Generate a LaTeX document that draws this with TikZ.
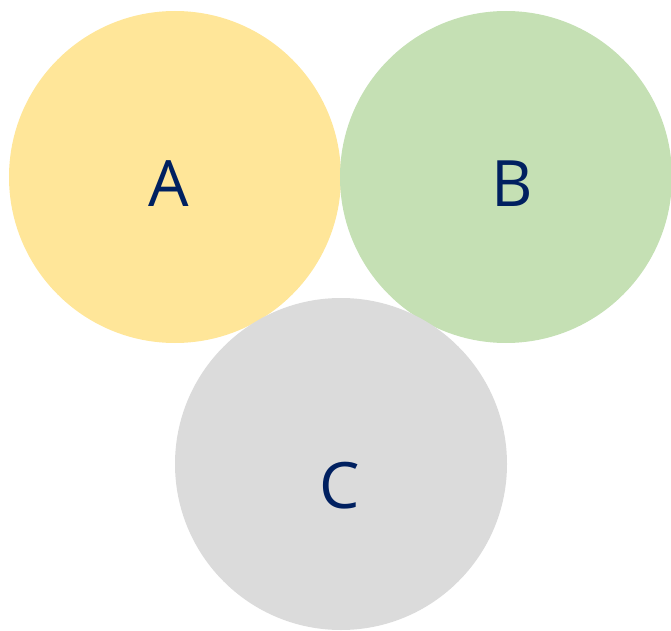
\documentclass[tikz,border=0pt]{standalone}
\usepackage{fontspec}
\setmainfont{Open Sans}
\definecolor{cA}{HTML}{FFE699}
\definecolor{cB}{HTML}{C5E0B4}
\definecolor{cC}{HTML}{DBDBDB}
\definecolor{navy}{HTML}{002060}
\begin{document}
\begin{tikzpicture}[x=0.75pt,y=-0.75pt,
  disc/.style={circle, draw=none, inner sep=0pt, minimum size=249pt},
  lbl/.style={font=\fontsize{48}{48}\selectfont, text=navy, inner sep=0pt, anchor=base}]
\useasboundingbox (0,0) rectangle (671,631);
\node[disc, fill=cA] (A) at (175,177) {};
\node[disc, fill=cB] (B) at (506,177) {};
\node[disc, fill=cC] (C) at (341,464) {};
\node[lbl] (la) at (168.5,207) {A};
\node[lbl] (lb) at (512,207) {B};
\node[lbl] (lc) at (340,508) {C};
\end{tikzpicture}
\end{document}
